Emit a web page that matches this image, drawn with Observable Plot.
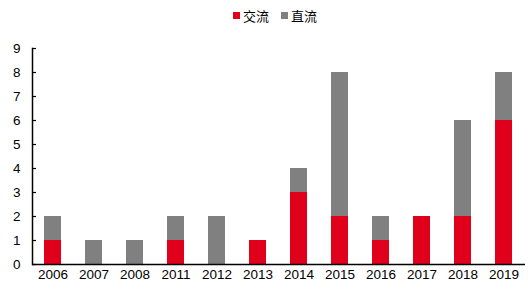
<!DOCTYPE html>
<html>
<head>
<meta charset="utf-8">
<script src="https://cdn.jsdelivr.net/npm/d3@7"></script>
<script src="https://cdn.jsdelivr.net/npm/@observablehq/plot@0.6"></script>
<style>
  html, body { margin: 0; padding: 0; background: #fff; }
  #wrap { width: 530px; font-family: "Liberation Sans", Arial, sans-serif; }
  #legend { height: 30px; display: flex; justify-content: center; align-items: center; gap: 12px; font-family: "Noto Sans CJK SC", sans-serif; font-size: 13px; color: #000; padding-left: 20px; box-sizing: border-box; }
  #legend .item { display: flex; align-items: center; gap: 3px; }
  #legend .sw { width: 7px; height: 7px; display: inline-block; }
</style>
</head>
<body>
<div id="wrap">
  <div id="legend"></div>
  <div id="chart"></div>
</div>
<script>
const years = ["2006","2007","2008","2011","2012","2013","2014","2015","2016","2017","2018","2019"];
const acValues = [1, 0, 0, 1, 0, 1, 3, 2, 1, 2, 2, 6];
const dcValues = [1, 1, 1, 1, 2, 0, 1, 6, 1, 0, 4, 2];
const seriesNames = ["交流", "直流"];
const seriesColors = ["#E0001B", "#808080"];
const yTicks = [0,1,2,3,4,5,6,7,8,9];

const rows = [];
years.forEach((y, i) => {
  rows.push({year: y, series: seriesNames[0], value: acValues[i]});
  rows.push({year: y, series: seriesNames[1], value: dcValues[i]});
});

const legend = document.getElementById("legend");
seriesNames.forEach((n, i) => {
  const it = document.createElement("span");
  it.className = "item";
  const sw = document.createElement("span");
  sw.className = "sw";
  sw.style.background = seriesColors[i];
  const t = document.createElement("span");
  t.textContent = n;
  it.appendChild(sw); it.appendChild(t);
  legend.appendChild(it);
});

const chart = Plot.plot({
  width: 530,
  height: 257,
  marginTop: 18,
  marginBottom: 23,
  marginLeft: 32,
  marginRight: 5,
  style: {fontFamily: "'Liberation Sans', Arial, sans-serif", fontSize: "13.5px", color: "#000"},
  x: {domain: years, paddingInner: 0.585, paddingOuter: 0.28, label: null},
  y: {domain: [0, 9], label: null},
  color: {domain: seriesNames, range: seriesColors},
  marks: [
    Plot.barY(rows, {x: "year", y: "value", fill: "series", order: seriesNames}),
    Plot.axisX({tickSize: 0, tickPadding: 5, fontSize: 13.5, label: null}),
    Plot.axisY({ticks: yTicks, tickSize: -4, tickPadding: 16, tickFormat: d3.format("d"), fontSize: 13.5, label: null, stroke: "#000", strokeWidth: 1.2}),
    Plot.frame({anchor: "left", stroke: "#000", strokeWidth: 1.5}),
    Plot.ruleY([0], {stroke: "#000", strokeWidth: 1.5})
  ]
});
document.getElementById("chart").appendChild(chart);
</script>
</body>
</html>
